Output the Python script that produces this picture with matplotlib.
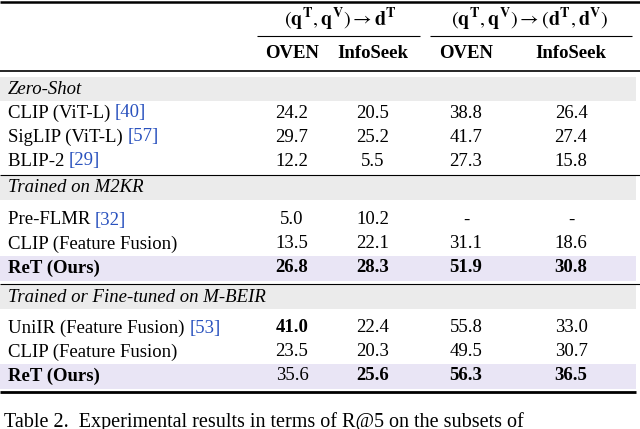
import matplotlib as mpl
mpl.use("Agg")
import matplotlib.pyplot as plt

mpl.rcParams.update({"font.family": "Liberation Serif", "mathtext.fontset": "stix"})

# ── Table data ───────────────────────────────────────────────────────────────
GROUPS = ["Zero-Shot", "Trained on M2KR", "Trained or Fine-tuned on M-BEIR"]
METHODS = [
    [("CLIP (ViT-L) ", "[40]"), ("SigLIP (ViT-L) ", "[57]"), ("BLIP-2 ", "[29]")],
    [("Pre-FLMR ", "[32]"), ("CLIP (Feature Fusion)", ""), ("ReT (Ours)", "")],
    [("UniIR (Feature Fusion) ", "[53]"), ("CLIP (Feature Fusion)", ""), ("ReT (Ours)", "")],
]
VALUES = [
    [["24.2", "20.5", "38.8", "26.4"], ["29.7", "25.2", "41.7", "27.4"], ["12.2", "5.5", "27.3", "15.8"]],
    [["5.0", "10.2", "-", "-"], ["13.5", "22.1", "31.1", "18.6"], ["26.8", "28.3", "51.9", "30.8"]],
    [["41.0", "22.4", "55.8", "33.0"], ["23.5", "20.3", "49.5", "30.7"], ["35.6", "25.6", "56.3", "36.5"]],
]
BOLD = {(1, 2, 0), (1, 2, 1), (1, 2, 2), (1, 2, 3), (2, 0, 0), (2, 2, 1), (2, 2, 2), (2, 2, 3)}
COLS = ["OVEN", "InfoSeek", "OVEN", "InfoSeek"]
TASKS = [r"$(\mathbf{q^T},\mathbf{q^V})\rightarrow\mathbf{d^T}$",
         r"$(\mathbf{q^T},\mathbf{q^V})\rightarrow(\mathbf{d^T},\mathbf{d^V})$"]
CAPTION = "Table 2.  Experimental results in terms of R@5 on the subsets of"

W, H = 640, 429
fig = plt.figure(figsize=(6.4, 4.29), dpi=100)
ax = fig.add_axes([0, 0, 1, 1])
ax.set_xlim(0, W)
ax.set_ylim(H, 0)
ax.axis("off")

FS = 13.5
col_x = [292, 373, 466, 571]
blue = "#2a52be"

def hline(y, x0=0, x1=640, lw=1.8):
    ax.plot([x0, x1], [y, y], color="black", lw=lw, solid_capstyle="butt")

hline(2)
ax.text(340, 19, TASKS[0], ha="center", va="center", fontsize=FS + 1)
ax.text(530, 19, TASKS[1], ha="center", va="center", fontsize=FS + 1)
hline(36, 257, 420, 0.8)
hline(36, 430, 632, 0.8)
for x, c in zip(col_x, COLS):
    ax.text(x, 53, c, ha="center", va="center", fontsize=FS, weight="bold")
hline(71, lw=1.2)

group_top = [77, 176, 285]
first_offset = [36, 44, 43]
for g, top in enumerate(group_top):
    ax.add_patch(plt.Rectangle((0, top), 636, 24, color="#ebebeb", lw=0))
    ax.text(8, top + 12, GROUPS[g], ha="left", va="center", fontsize=FS, style="italic")
    for r, (name, cite) in enumerate(METHODS[g]):
        yc = top + first_offset[g] + 24 * r
        ours = name.startswith("ReT")
        if ours:
            ax.add_patch(plt.Rectangle((0, yc - 12), 636, 25, color="#e9e5f5", lw=0))
        t = ax.text(8, yc, name, ha="left", va="center", fontsize=FS,
                    weight="bold" if ours else "normal")
        if cite:
            fig.canvas.draw()
            bb = t.get_window_extent().transformed(ax.transData.inverted())
            ax.text(bb.x1, yc, cite, ha="left", va="center", fontsize=FS, color=blue)
        for c, v in enumerate(VALUES[g][r]):
            ax.text(col_x[c], yc, v, ha="center", va="center", fontsize=FS,
                    weight="bold" if (g, r, c) in BOLD else "normal")
    if g < 2:
        hline(group_top[g + 1] - 1, lw=0.8)
hline(392, 0, 636, 2.0)

ax.text(4, 422, CAPTION, ha="left", va="center", fontsize=FS + 1)

fig.savefig("out.png", dpi=100)
